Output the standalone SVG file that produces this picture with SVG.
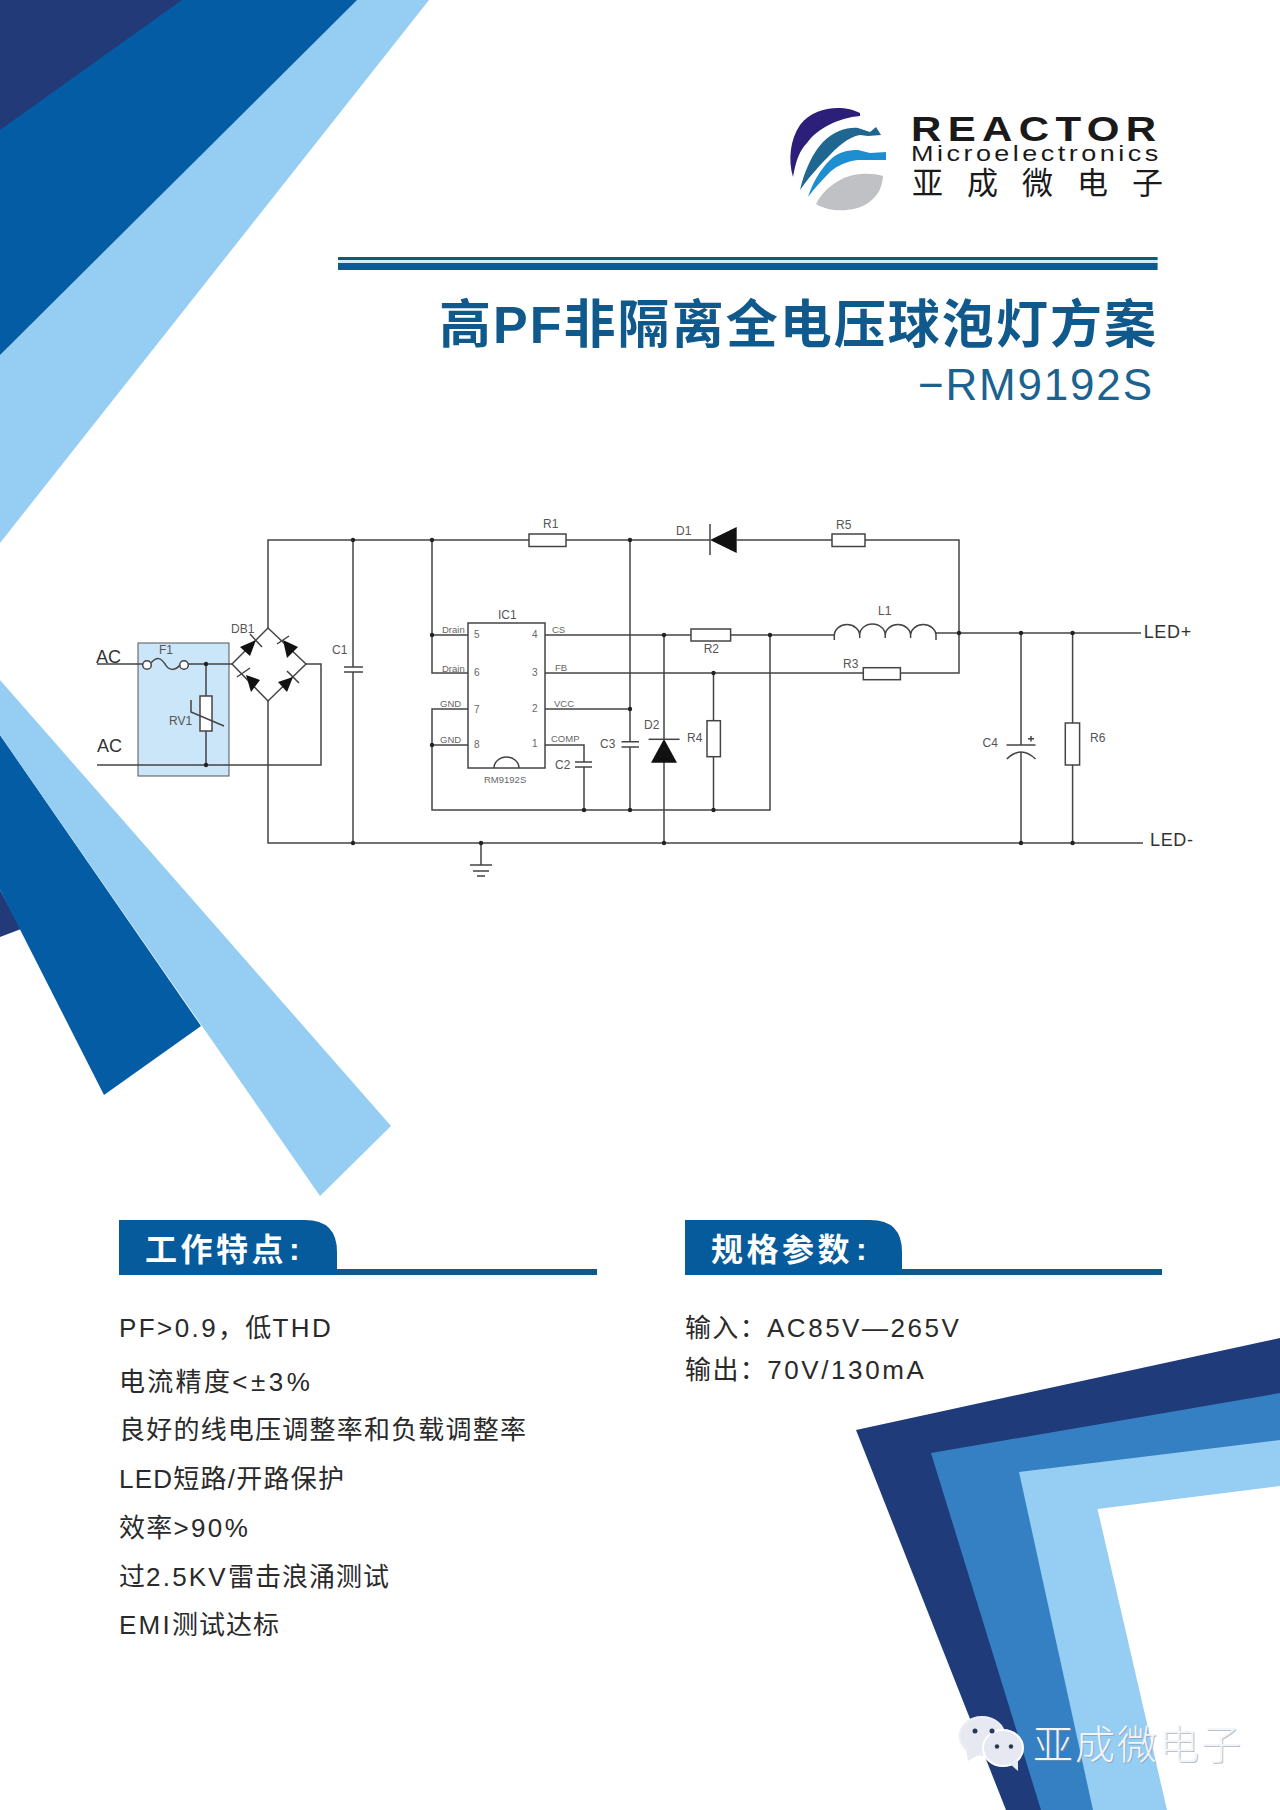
<svg xmlns="http://www.w3.org/2000/svg" width="1280" height="1810" viewBox="0 0 1280 1810">
<style>
text{font-family:"Liberation Sans","Noto Sans CJK SC",sans-serif}
.w{fill:none;stroke:#444;stroke-width:1.5}
.c{fill:#fff;stroke:#444;stroke-width:1.5}
.k{fill:#111;stroke:none}
.j{fill:#222;stroke:none}
.t{fill:#555;font-size:12px}
.p{fill:#666;font-size:9.5px}
.n{fill:#666;font-size:10px}
.b{fill:#333;font-size:18px}
.body{fill:#2a2a2a;font-size:26px;letter-spacing:1px}
.l{letter-spacing:2.2px}
.hd{fill:#fff;font-size:32px;font-weight:700;letter-spacing:3.5px}
.tab{fill:#055b9b}
.bar{fill:#0f5a8a}
.wm{font-size:40px;letter-spacing:2px;font-weight:300}
</style>
<rect width="1280" height="1810" fill="#fff"/>
<g id="decor-top-left">
<polygon points="0,0 429,0 0,543" fill="#95cdf3"/>
<polygon points="0,0 357,0 0,355" fill="#045ca4"/>
<polygon points="0,0 182,0 0,130" fill="#223a78"/>
</g>
<g id="decor-bottom-left">
<polygon points="0,890 21,929 0,937" fill="#223a78"/>
<polygon points="0,735 201,1026 104,1095 0,890" fill="#045ca4"/>
<polygon points="0,680 391,1126 320,1196 0,735" fill="#95cdf3"/>
</g>
<g id="decor-bottom-right">
<polygon points="856,1430 1280,1338 1280,1810 1006,1810" fill="#203b79"/>
<polygon points="931,1453 1280,1393 1280,1810 1041,1810" fill="#3580c2"/>
<polygon points="1019,1472 1280,1440 1280,1810 1093,1810" fill="#95cdf3"/>
<polygon points="1097.5,1509 1280,1486 1280,1810 1167,1810" fill="#fff"/>
</g>
<g id="logo">
<path d="M860 113C845 105 815 105 800 125C790 140 788 160 793 177C796 160 800 150 807 143C818 128 838 118 860 116Z" fill="#2c1f7a"/>
<path d="M800 190C804 172 813 152 823 142C834 131 848 127 858 128L870 132L876 127L881 135L868 136L860 135C848 137 837 147 827 158C817 168 807 180 800 190Z" fill="#1f6690"/>
<path d="M808 197C813 182 820 170 830 160C838 152 848 150 858 150L870 153L886 152L886 160L868 160L858 160C848 161 838 165 830 172C822 180 814 189 808 197Z" fill="#1d8fd0"/>
<path d="M816 204C822 192 830 186 840 180C852 173 870 172 883 176C882 188 878 196 868 203C855 212 830 213 816 204Z" fill="#c0c1c4"/>
<text transform="translate(911,140.5) scale(1.2,1)" font-size="35" font-weight="700" fill="#1a1a1a" letter-spacing="5.3">REACTOR</text>
<text transform="translate(911,161) scale(1.2,1)" font-size="22.5" fill="#1a1a1a" letter-spacing="2.9">Microelectronics</text>
<text x="912" y="194" font-size="31" fill="#1a1a1a" letter-spacing="24">亚成微电子</text>
</g>
<g id="title">
<rect x="338" y="257" width="819.6" height="3" fill="#0f5a7a"/>
<rect x="338" y="260" width="819.6" height="3" fill="#cdeefa"/>
<rect x="338" y="263" width="819.6" height="7" fill="#0f5a8f"/>
<text x="439" y="343" font-size="52" font-weight="700" fill="#10598c" textLength="717">高PF非隔离全电压球泡灯方案</text>
<text x="918" y="400" font-size="44" fill="#1b628f" textLength="234">−RM9192S</text>
</g>
<g id="input-filter-box"><rect x="138" y="643" width="91" height="133" fill="#cbe6f8" stroke="#555" stroke-width="1"/></g>
<g id="connectors">
<path class="w" d="M97 664H143M188 664H232M306 664H321V765H97M206 664V696M206 731V765"/>
<path class="w" d="M268 628V540H529M566 540H710M736.7 540H832M865 540H959V673H900.4M863.3 673H545"/>
<path class="w" d="M268 701V843H1143"/>
<path class="w" d="M353 540V667M353 672V843"/>
<path class="w" d="M432 540V673H468M432 635H468M468 709H432V810H770V635M432 745H468"/>
<path class="w" d="M545 635H691M730.6 635H834.3M545 709H630M545 745H584V762M584 767V810"/>
<path class="w" d="M630 540V741.7M630 747V810"/>
<path class="w" d="M664 635V739M664 762V843"/>
<path class="w" d="M713.5 673V720.7M713.5 756.7V810"/>
<path class="w" d="M936 633H1141"/>
<path class="w" d="M1021 633V745M1021 752V843M1072.6 633V723M1072.6 765V843"/>
<path class="w" d="M481 843V865"/>
<g class="j">
<circle cx="206" cy="664" r="2.2"/><circle cx="206" cy="765" r="2.2"/><circle cx="353" cy="540" r="2.2"/><circle cx="432" cy="540" r="2.2"/><circle cx="353" cy="843" r="2.2"/><circle cx="481" cy="843" r="2.2"/><circle cx="432" cy="635" r="2.2"/><circle cx="432" cy="745" r="2.2"/><circle cx="584" cy="810" r="2.2"/><circle cx="630" cy="540" r="2.2"/><circle cx="630" cy="709" r="2.2"/><circle cx="630" cy="810" r="2.2"/><circle cx="664" cy="635" r="2.2"/><circle cx="664" cy="843" r="2.2"/><circle cx="713.5" cy="673" r="2.2"/><circle cx="713.5" cy="810" r="2.2"/><circle cx="770" cy="635" r="2.2"/><circle cx="959" cy="633" r="2.2"/><circle cx="1021" cy="633" r="2.2"/><circle cx="1072.6" cy="633" r="2.2"/><circle cx="1021" cy="843" r="2.2"/><circle cx="1072.6" cy="843" r="2.2"/>
</g>
</g>
<g id="AC-in">
<text class="b" x="96" y="663">AC</text>
<text class="b" x="97" y="752">AC</text>
</g>
<g id="F1">
<circle cx="147" cy="665" r="4.3" fill="#fff" stroke="#444" stroke-width="1.5"/>
<circle cx="184" cy="665" r="4.3" fill="#fff" stroke="#444" stroke-width="1.5"/>
<path class="w" d="M151 663C157 656 161 658 165 664C169 671 175 671 180 665"/>
<text class="t" x="159" y="654">F1</text>
</g>
<g id="RV1">
<rect class="c" x="200" y="696" width="12" height="35"/>
<path class="w" d="M191 700V712L224 726"/>
<text class="t" x="169" y="725" font-size="12.5">RV1</text>
</g>
<g id="DB1">
<path class="w" d="M232 664L268 628L306 664L268 701Z"/>
<polygon class="k" points="256,640 240,647 250,656"/>
<polygon class="k" points="283,640 298,647 287,658"/>
<polygon class="k" points="246,675 260,680 251,692"/>
<polygon class="k" points="293,677 278,682 287,692"/>
<path class="w" d="M250 634L262 647M277 644L289 636M237 677L250 668M287 671L299 683"/>
<text class="t" x="231" y="633">DB1</text>
</g>
<g id="C1">
<path class="w" d="M344 667H363M344 672H363"/>
<text class="t" x="332" y="654">C1</text>
</g>
<g id="R1">
<rect class="c" x="529" y="534" width="37" height="12.5"/>
<text class="t" x="543" y="528">R1</text>
</g>
<g id="IC1">
<rect class="c" x="468" y="623" width="77" height="145"/>
<path class="w" d="M494 768A12.5 11 0 0 1 519 768"/>
<text class="t" x="498" y="619">IC1</text>
<text class="p" x="442" y="633">Drain</text>
<text class="p" x="442" y="672">Drain</text>
<text class="p" x="440" y="707">GND</text>
<text class="p" x="440" y="743">GND</text>
<text class="n" x="474" y="638">5</text>
<text class="n" x="474" y="676">6</text>
<text class="n" x="474" y="713">7</text>
<text class="n" x="474" y="748">8</text>
<text class="n" x="532" y="638">4</text>
<text class="n" x="532" y="676">3</text>
<text class="n" x="532" y="712">2</text>
<text class="n" x="532" y="747">1</text>
<text class="p" x="552" y="633">CS</text>
<text class="p" x="555" y="671">FB</text>
<text class="p" x="554" y="707">VCC</text>
<text class="p" x="551" y="742">COMP</text>
<text class="p" x="484" y="783" font-size="9">RM9192S</text>
</g>
<g id="C2">
<path class="w" d="M575 762H592M575 767H592"/>
<text class="t" x="555" y="769">C2</text>
</g>
<g id="C3">
<path class="w" d="M621.5 741.7H639M621.5 747H639"/>
<text class="t" x="600" y="748">C3</text>
</g>
<g id="D1">
<polygon class="k" points="710,540 736.7,527 736.7,553"/>
<path class="w" d="M710 524V555"/>
<text class="t" x="676" y="535" font-size="11">D1</text>
</g>
<g id="D2">
<polygon class="k" points="664,739 651,762.7 677,762.7"/>
<path class="w" d="M648.6 739.3H679.6"/>
<text class="t" x="644" y="729">D2</text>
</g>
<g id="R2">
<rect class="c" x="691" y="629" width="39.6" height="12"/>
<text class="t" x="703.7" y="653">R2</text>
</g>
<g id="R3">
<rect class="c" x="863.3" y="667.7" width="37.1" height="12"/>
<text class="t" x="843" y="668">R3</text>
</g>
<g id="R4">
<rect class="c" x="707" y="720.7" width="13.4" height="36"/>
<text class="t" x="687" y="742">R4</text>
</g>
<g id="R5">
<rect class="c" x="832" y="534" width="33" height="12.5"/>
<text class="t" x="836" y="529">R5</text>
</g>
<g id="R6">
<rect class="c" x="1065.3" y="723" width="14.3" height="42"/>
<text class="t" x="1090" y="742">R6</text>
</g>
<g id="L1">
<path class="w" d="M834.3 640V635A12.72 11 0 0 1 859.7 635V638M859.7 635A12.72 11 0 0 1 885.2 635V638M885.2 635A12.72 11 0 0 1 910.6 635V638M910.6 635A12.72 11 0 0 1 936 635V640"/>
<text class="t" x="878" y="615">L1</text>
</g>
<g id="C4">
<path class="w" d="M1006.5 745H1035.5M1006.8 759Q1021 745 1035.5 759"/>
<path class="w" d="M1028 738.7H1034M1031 736V741.5"/>
<text class="t" x="982.5" y="747">C4</text>
</g>
<g id="GND">
<path class="w" d="M470 865H492M473 871H489M477 876H485"/>
</g>
<g id="LED-out">
<text class="b" x="1143.7" y="638" textLength="47.5">LED+</text>
<text class="b" x="1150" y="846" textLength="43">LED-</text>
</g>
<g id="features-header">
<path class="tab" d="M119 1220H305Q337 1220 337 1252V1275H119Z"/>
<rect class="bar" x="337" y="1269" width="260" height="6"/>
<text class="hd" x="145" y="1261">工作特点</text>
<text class="hd" x="289" y="1260">:</text>
</g>
<g id="features">
<text class="body" x="119" y="1337" textLength="214"><tspan class="l">PF&gt;0.9</tspan>，低<tspan class="l">THD</tspan></text>
<text class="body" x="119" y="1391" textLength="193">电流精度<tspan class="l">&lt;±3%</tspan></text>
<text class="body" x="119" y="1439" textLength="408">良好的线电压调整率和负载调整率</text>
<text class="body" x="119" y="1488" textLength="226">LED短路/开路保护</text>
<text class="body" x="119" y="1537" textLength="131">效率<tspan class="l">&gt;90%</tspan></text>
<text class="body" x="119" y="1586" textLength="271">过<tspan class="l">2.5KV</tspan>雷击浪涌测试</text>
<text class="body" x="119" y="1634" textLength="161"><tspan class="l">EMI</tspan>测试达标</text>
</g>
<g id="spec-header">
<path class="tab" d="M685 1220H870Q902 1220 902 1252V1275H685Z"/>
<rect class="bar" x="902" y="1269" width="260" height="6"/>
<text class="hd" x="711" y="1261">规格参数</text>
<text class="hd" x="856" y="1260">:</text>
</g>
<g id="specs">
<text class="body" x="685" y="1337" textLength="276">输入：<tspan class="l">AC85V—265V</tspan></text>
<text class="body" x="685" y="1379" textLength="241">输出：<tspan class="l">70V/130mA</tspan></text>
</g>
<g id="watermark">
<ellipse cx="982" cy="1736" rx="22.5" ry="19" fill="#e6e9f1" stroke="#eef0f4" stroke-width="2"/>
<polygon points="966,1750 968,1761 980,1754" fill="#e6e9f1"/>
<ellipse cx="1003" cy="1748" rx="20" ry="18" fill="#e6e9f1" stroke="#fff" stroke-width="2"/>
<polygon points="1010,1764 1018,1771 1018,1760" fill="#e6e9f1"/>
<circle cx="975" cy="1731" r="2.5" fill="#2a3a55"/><circle cx="992" cy="1731" r="2.5" fill="#2a3a55"/>
<circle cx="997" cy="1746.5" r="2.2" fill="#2a3a55"/><circle cx="1011" cy="1746.5" r="2.2" fill="#2a3a55"/>
<text class="wm" x="1034" y="1760" fill="#8a8f98" opacity=".55">亚成微电子</text>
<text class="wm" x="1033" y="1759" fill="#f2f5fa">亚成微电子</text>
</g>
</svg>
